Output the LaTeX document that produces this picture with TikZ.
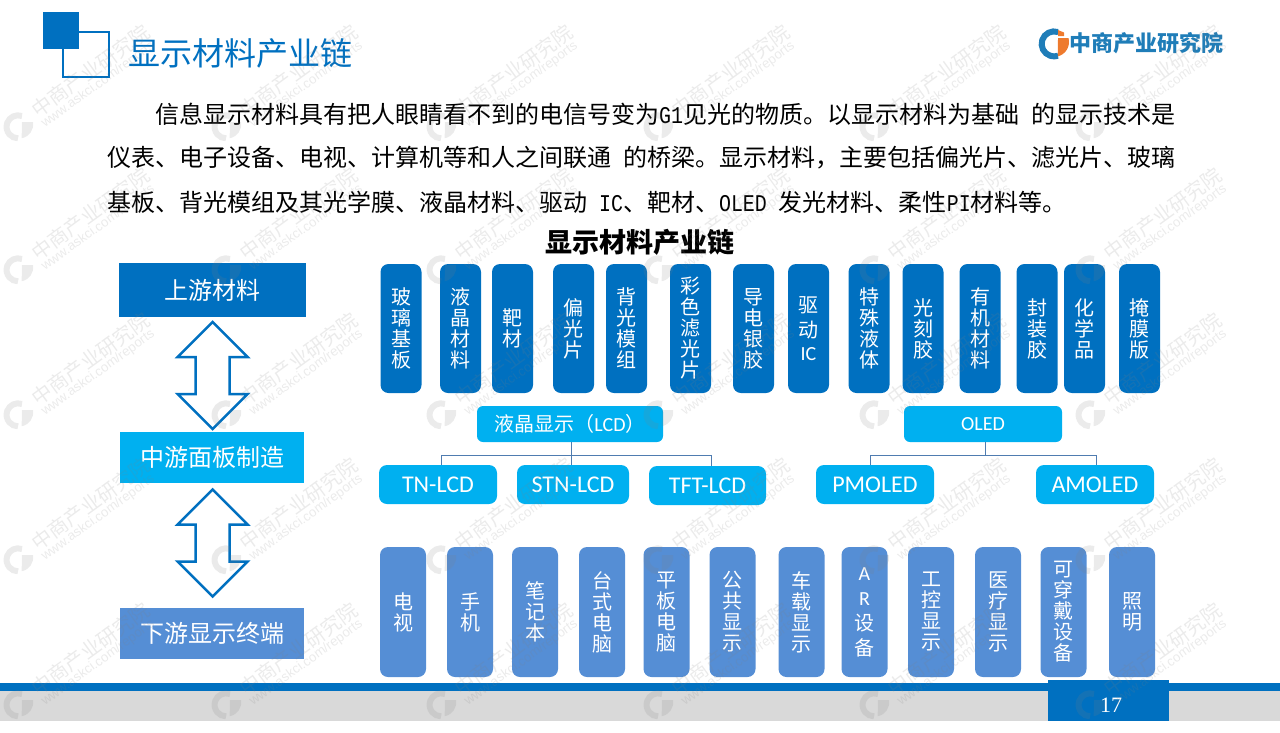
\documentclass[tikz,border=0pt]{standalone}
\usepackage{fontspec}
\setmainfont{Carlito}
\newfontfamily\cjk{Noto Sans CJK SC}
\newfontfamily\mono[FakeStretch=0.83]{Liberation Mono}
\newfontfamily\pagefont{Liberation Serif}
\newfontfamily\markfont{Liberation Sans}
\definecolor{deepblue}{HTML}{0070C0}
\definecolor{skyblue}{HTML}{00B0F0}
\definecolor{softblue}{HTML}{558ED5}
\definecolor{linkblue}{HTML}{4F7CB0}
\definecolor{logoblue}{HTML}{1F7DB8}
\definecolor{logoorange}{HTML}{EE7A2D}
\tikzset{
	pillar/.style={rounded corners=8pt,inner sep=0pt,text=white,align=center,font=\cjk\fontsize{20}{21}\selectfont},
	upbox/.style={pillar,fill=deepblue,minimum width=41pt,minimum height=129pt},
	downbox/.style={pillar,fill=softblue,minimum width=46pt,minimum height=130pt},
	stagebox/.style={inner sep=0pt,text=white,font=\cjk\fontsize{24}{28}\selectfont},
	headbox/.style={rounded corners=6pt,fill=skyblue,inner sep=0pt,text=white,minimum height=36pt,font=\fontsize{20}{24}\selectfont},
	kindbox/.style={rounded corners=8pt,fill=skyblue,inner sep=0pt,text=white,minimum height=39pt,font=\fontsize{24}{28}\selectfont},
	bodyline/.style={anchor=west,inner sep=0pt,font=\cjk\fontsize{24}{28}\selectfont},
	link/.style={draw=linkblue,line width=1pt},
	markbig/.style={inner sep=0pt,anchor=west,rotate=36,text=gray,opacity=.16,font=\cjk\fontsize{20}{22}\selectfont},
	marksmall/.style={inner sep=0pt,anchor=west,rotate=36,text=gray,opacity=.16,font=\markfont\fontsize{13.3}{15}\selectfont},
	updown/.pic={\draw[draw=deepblue,fill=white,line width=2.5pt,line join=miter] (0,-53.5) -- (35,-18.5) -- (17,-18.5) -- (17,18.5) -- (35,18.5) -- (0,53.5) -- (-35,18.5) -- (-17,18.5) -- (-17,-18.5) -- (-35,-18.5) -- cycle;}
}
\begin{document}
\begin{tikzpicture}[x=1pt,y=-1pt]
	\useasboundingbox (0,0) rectangle (1280,732);
	% header
	\draw[deepblue,line width=2pt] (63,32) rectangle (109,77);
	\fill[deepblue] (43,12) rectangle (79,49);
	\node[anchor=west,inner sep=0pt,text=deepblue,font=\cjk\fontsize{32}{36}\selectfont] (title) at (128,53) {显示材料产业链};
	\draw[logoblue,line width=6pt] (1058,32) arc (-72:-288:12.5);
	\fill[logoorange] (1058,38) -- (1068.5,38) arc (-15:75:15) -- cycle;
	\fill[logoorange] (1058,30) -- (1064,32.5) -- (1064,36) -- (1058,36) -- cycle;
	\node[anchor=west,inner sep=0pt,text=logoblue,font=\cjk\bfseries\fontsize{22}{24}\selectfont] (logotext) at (1069,43) {中商产业研究院};
	% text
	\node[bodyline] (lineone) at (155,114) {信息显示材料具有把人眼睛看不到的电信号变为{\mono G1}见光的物质。以显示材料为基础{\mono\ }的显示技术是};
	\node[bodyline] (linetwo) at (107,158) {仪表、电子设备、电视、计算机等和人之间联通{\mono\ }的桥梁。显示材料，主要包括偏光片、滤光片、玻璃};
	\node[bodyline] (linethree) at (107,202) {基板、背光模组及其光学膜、液晶材料、驱动{\mono\ IC}、靶材、{\mono OLED\ }发光材料、柔性{\mono PI}材料等。};
	\node[inner sep=0pt,font=\cjk\bfseries\fontsize{27}{30}\selectfont] (chain) at (640,242) {显示材料产业链};
	% left column
	\node[stagebox,fill=deepblue,minimum width=187pt,minimum height=54pt] (upper) at (212.5,290) {上游材料};
	\node[stagebox,fill=skyblue,minimum width=184pt,minimum height=51pt] (middle) at (212,457.5) {中游面板制造};
	\node[stagebox,fill=softblue,minimum width=184pt,minimum height=51pt] (lower) at (212,633.5) {下游显示终端};
	\pic (arrowone) at (212.7,375.5) {updown};
	\pic (arrowtwo) at (212.7,543) {updown};
	% top row
	\foreach \nm/\xc/\txt in {boli/401/{玻\\璃\\基\\板},yejing/460.5/{液\\晶\\材\\料},bacai/512.5/{靶\\材},pian/573.5/{偏\\光\\片},
		beiguang/626.5/{背\\光\\模\\组},caise/690.5/{彩\\色\\滤\\光\\片},daodian/753.5/{导\\电\\银\\胶},qudong/808.5/{驱\\[4pt]动\\[2pt]{\rmfamily IC}},
		teshu/869/{特\\殊\\液\\体},guangke/923/{光\\刻\\胶},youji/980/{有\\机\\材\\料},fengzhuang/1037/{封\\装\\胶},
		huaxue/1084.5/{化\\学\\品},yanmo/1139.5/{掩\\膜\\版}}
		\node[upbox] (\nm) at (\xc,328.5) {\txt};
	% middle row
	\node[headbox,minimum width=186pt] (lcd) at (570,424) {{\cjk 液晶显示（}LCD{\cjk ）}};
	\node[headbox,minimum width=158pt] (oled) at (983,424) {OLED};
	\node[kindbox,minimum width=118pt] (tn) at (438,484.5) {TN-LCD};
	\node[kindbox,minimum width=112pt] (stn) at (573,484.5) {STN-LCD};
	\node[kindbox,minimum width=117pt] (tft) at (707.5,485.5) {TFT-LCD};
	\node[kindbox,minimum width=118pt] (pm) at (875,484.5) {PMOLED};
	\node[kindbox,minimum width=118pt] (am) at (1095,484.5) {AMOLED};
	\coordinate (lcdfork) at ([xshift=1pt,yshift=-13pt]lcd.south);
	\coordinate (oledfork) at ([xshift=2pt,yshift=-13pt]oled.south);
	\draw[link] ([xshift=1pt]lcd.south) -- (lcdfork);
	\draw[link] (lcdfork) -| ([xshift=3pt]tn.north);
	\draw[link] (lcdfork) -| ([xshift=-2pt]stn.north);
	\draw[link] (lcdfork) -| ([xshift=3.5pt]tft.north);
	\draw[link] ([xshift=2pt]oled.south) -- (oledfork);
	\draw[link] (oledfork) -| ([xshift=-5pt]pm.north);
	\draw[link] (oledfork) -| ([xshift=1pt]am.north);
	% bottom row
	\foreach \nm/\xc/\txt in {tv/403/{电\\视},phone/470/{手\\机},laptop/535/{笔\\记\\本},desktop/602/{台\\式\\电\\脑},
		tablet/666.5/{平\\板\\电\\脑},public/732.5/{公\\共\\显\\示},car/801.5/{车\\载\\显\\示},ar/864.5/{{\rmfamily A}\\[4pt]{\rmfamily R}\\[4pt]设\\[4pt]备},
		control/931/{工\\控\\显\\示},medical/998/{医\\疗\\显\\示},wear/1063.5/{可\\穿\\戴\\设\\备},lighting/1132/{照\\明}}
		\node[downbox] (\nm) at (\xc,612) {\txt};
	% footer
	\fill[black!15] (0,691) rectangle (1280,721);
	\fill[deepblue] (0,683) rectangle (1280,691);
	\fill[deepblue] (1048,680) rectangle (1169,721);
	\node[inner sep=0pt,text=white,font=\pagefont\fontsize{22}{24}\selectfont] (pagenum) at (1111,705) {17};
	% watermark
	\foreach \wx in {18,226,441,658,874,1090}
		\foreach \wy in {127,270,415,560,705} {
			\draw[gray,opacity=.16,line width=6pt] (\wx+4,\wy-11) arc (-70:-270:11.5);
			\fill[gray,opacity=.16] (\wx+4,\wy-5) -- (\wx+15,\wy-5) arc (-10:80:14) -- cycle;
			\node[markbig] (mark\wx-\wy) at (\wx+16,\wy-15) {中商产业研究院};
			\node[marksmall] (site\wx-\wy) at (\wx+25,\wy-2) {www.askci.com/reports};
		}
\end{tikzpicture}
\end{document}
